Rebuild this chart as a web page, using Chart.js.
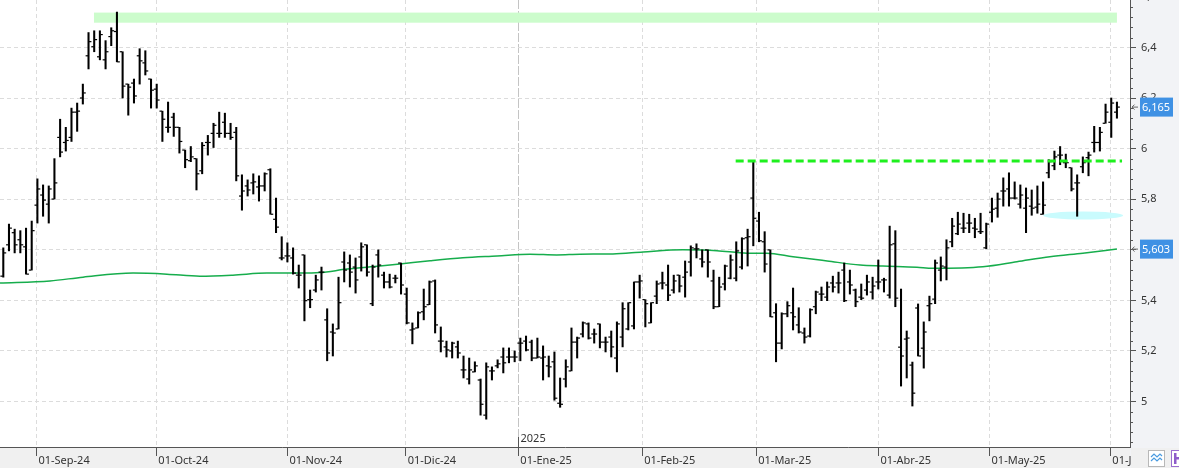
<!DOCTYPE html>
<html>
<head>
<meta charset="utf-8">
<script src="https://cdn.jsdelivr.net/npm/chart.js@4.4.1/dist/chart.umd.min.js"></script>
<style>
  html, body { margin: 0; padding: 0; background: #fff; }
  #wrap { width: 1179px; height: 468px; }
</style>
</head>
<body>
<div id="wrap"><canvas id="chart" width="1179" height="468"></canvas></div>
<script>
// Daily OHLC bars, 23-Aug-24 .. 03-Jun-25 (one entry per trading session)
const opens = [5.496,5.620,5.668,5.640,5.612,5.520,5.777,5.817,5.781,5.801,6.045,6.025,6.045,6.145,6.201,6.368,6.404,6.364,6.352,6.444,6.464,6.384,6.256,6.260,6.368,6.340,6.276,6.236,6.149,6.085,6.125,6.085,5.995,5.953,5.961,5.913,6.025,6.061,6.061,6.105,6.061,6.065,5.813,5.853,5.865,5.849,5.853,5.917,5.721,5.568,5.576,5.568,5.500,5.580,5.403,5.441,5.512,5.323,5.275,5.287,5.552,5.548,5.532,5.572,5.620,5.387,5.580,5.500,5.473,5.488,5.548,5.425,5.283,5.291,5.355,5.383,5.477,5.239,5.216,5.200,5.216,5.125,5.089,5.117,5.085,4.946,5.121,5.141,5.176,5.176,5.176,5.231,5.239,5.235,5.172,5.172,5.141,5.157,4.993,5.089,5.121,5.235,5.267,5.307,5.267,5.307,5.235,5.255,5.172,5.255,5.287,5.299,5.473,5.403,5.311,5.417,5.469,5.461,5.441,5.500,5.492,5.552,5.604,5.564,5.600,5.477,5.375,5.465,5.488,5.488,5.532,5.648,5.805,5.714,5.632,5.600,5.351,5.231,5.347,5.351,5.303,5.271,5.259,5.375,5.425,5.413,5.469,5.469,5.520,5.473,5.441,5.413,5.441,5.433,5.473,5.481,5.421,5.624,5.215,5.247,5.144,5.370,5.211,5.379,5.405,5.520,5.532,5.632,5.664,5.686,5.706,5.686,5.672,5.608,5.749,5.765,5.833,5.841,5.805,5.781,5.765,5.773,5.769,5.741,5.905,5.933,5.975,5.945,5.925,5.865,5.929,5.965,6.025,6.025,6.101,6.105,6.145];
const highs = [5.608,5.702,5.682,5.676,5.686,5.714,5.881,5.857,5.853,5.961,6.117,6.085,6.161,6.181,6.256,6.460,6.467,6.467,6.428,6.479,6.541,6.384,6.256,6.276,6.396,6.388,6.276,6.256,6.149,6.185,6.141,6.085,5.995,6.009,5.961,6.025,6.053,6.101,6.145,6.141,6.101,6.085,5.897,5.877,5.901,5.893,5.905,5.921,5.805,5.652,5.628,5.608,5.540,5.580,5.441,5.500,5.532,5.367,5.307,5.492,5.592,5.580,5.568,5.628,5.620,5.540,5.600,5.512,5.504,5.500,5.548,5.449,5.311,5.355,5.445,5.477,5.481,5.295,5.239,5.235,5.239,5.180,5.172,5.157,5.089,5.153,5.137,5.165,5.212,5.212,5.200,5.251,5.259,5.243,5.251,5.220,5.180,5.196,5.093,5.165,5.291,5.255,5.315,5.311,5.287,5.307,5.255,5.279,5.315,5.391,5.391,5.473,5.500,5.403,5.391,5.477,5.512,5.540,5.500,5.500,5.556,5.616,5.624,5.600,5.600,5.520,5.492,5.540,5.580,5.632,5.648,5.682,5.949,5.749,5.672,5.600,5.387,5.351,5.395,5.449,5.371,5.291,5.367,5.437,5.453,5.473,5.496,5.512,5.548,5.520,5.445,5.465,5.500,5.492,5.560,5.488,5.694,5.676,5.445,5.279,5.156,5.386,5.315,5.417,5.560,5.572,5.640,5.725,5.749,5.745,5.741,5.725,5.745,5.706,5.805,5.825,5.885,5.905,5.869,5.857,5.845,5.837,5.853,5.869,5.957,5.991,6.009,5.979,5.925,5.897,5.968,5.987,6.089,6.085,6.177,6.201,6.185];
const lows = [5.492,5.596,5.588,5.588,5.504,5.520,5.706,5.733,5.706,5.801,5.968,5.991,6.029,6.069,6.177,6.316,6.384,6.352,6.316,6.408,6.344,6.201,6.133,6.181,6.256,6.292,6.161,6.161,6.029,6.065,6.049,5.983,5.925,5.949,5.837,5.901,5.975,6.005,6.045,6.045,6.037,5.873,5.757,5.813,5.821,5.793,5.833,5.741,5.668,5.560,5.552,5.504,5.449,5.319,5.371,5.433,5.441,5.161,5.180,5.287,5.473,5.453,5.429,5.516,5.496,5.379,5.492,5.449,5.449,5.469,5.425,5.307,5.228,5.291,5.323,5.383,5.271,5.196,5.176,5.172,5.172,5.093,5.069,5.117,4.946,4.930,5.085,5.133,5.113,5.153,5.157,5.161,5.200,5.161,5.172,5.085,5.097,5.005,4.977,5.057,5.121,5.172,5.255,5.247,5.231,5.212,5.196,5.176,5.117,5.216,5.283,5.287,5.409,5.295,5.311,5.387,5.445,5.399,5.429,5.433,5.413,5.496,5.568,5.532,5.492,5.367,5.375,5.441,5.485,5.477,5.524,5.536,5.616,5.632,5.512,5.335,5.157,5.208,5.335,5.283,5.271,5.231,5.255,5.347,5.399,5.399,5.433,5.429,5.395,5.425,5.375,5.403,5.421,5.405,5.445,5.433,5.409,5.375,5.061,5.093,4.982,5.180,5.132,5.319,5.387,5.477,5.481,5.612,5.660,5.668,5.668,5.648,5.664,5.604,5.710,5.729,5.773,5.773,5.801,5.765,5.668,5.737,5.745,5.741,5.885,5.917,5.937,5.925,5.833,5.733,5.905,5.893,5.987,5.991,6.101,6.045,6.121];
const closes = [5.588,5.686,5.620,5.620,5.504,5.676,5.841,5.797,5.841,5.865,5.987,6.033,6.145,6.149,6.221,6.424,6.432,6.452,6.384,6.467,6.344,6.248,6.244,6.209,6.348,6.308,6.232,6.193,6.117,6.085,6.085,6.029,5.957,5.968,5.901,6.013,6.025,6.093,6.061,6.061,6.045,5.893,5.833,5.837,5.869,5.853,5.901,5.741,5.690,5.568,5.576,5.508,5.500,5.399,5.403,5.481,5.512,5.192,5.271,5.391,5.520,5.512,5.481,5.612,5.512,5.532,5.540,5.473,5.453,5.488,5.461,5.311,5.287,5.351,5.375,5.473,5.303,5.239,5.204,5.231,5.192,5.125,5.125,5.141,4.989,5.137,5.121,5.149,5.153,5.176,5.176,5.231,5.204,5.172,5.176,5.176,5.137,5.013,4.989,5.137,5.235,5.251,5.311,5.251,5.267,5.235,5.235,5.216,5.307,5.367,5.391,5.473,5.477,5.387,5.391,5.465,5.469,5.421,5.477,5.457,5.512,5.608,5.604,5.552,5.552,5.375,5.453,5.536,5.560,5.596,5.644,5.652,5.725,5.636,5.544,5.335,5.231,5.347,5.379,5.335,5.275,5.255,5.363,5.433,5.425,5.453,5.453,5.469,5.399,5.461,5.395,5.409,5.473,5.457,5.473,5.481,5.620,5.409,5.180,5.251,5.033,5.180,5.275,5.387,5.548,5.536,5.608,5.694,5.702,5.686,5.706,5.682,5.672,5.702,5.761,5.801,5.833,5.805,5.805,5.817,5.805,5.765,5.781,5.777,5.949,5.968,5.975,5.945,5.841,5.865,5.945,5.975,6.025,6.065,6.145,6.181,6.165];

// Moving average, read at a handful of bar positions
const maPos = [-0.58,8.22,14.03,22.83,28.81,34.6,40.4,46.4,52.2,55.7,60.5,66.3,69.8,75.1,80.9,86.9,92.7,97.4,101.5,107.3,112.6,119.6,125.6,130.9,134.4,139.0,145.0,150.8,154.8,160.8,163.6,172.4,178.4,184.2,190.0,196];
const maValues = [5.469,5.477,5.492,5.508,5.504,5.496,5.500,5.508,5.508,5.510,5.524,5.536,5.544,5.557,5.569,5.576,5.583,5.580,5.583,5.584,5.592,5.600,5.597,5.587,5.587,5.573,5.556,5.540,5.536,5.531,5.527,5.533,5.553,5.573,5.587,5.603];

// Axis ticks
const monthLabels = ['01-Sep-24','01-Oct-24','01-Nov-24','01-Dic-24','01-Ene-25','01-Feb-25','01-Mar-25','01-Abr-25','01-May-25','01-Jun-25'];
const monthPos = [5.83,26.94,50.0,70.82,90.65,112.46,132.52,154.02,173.58,194.84];
const yTicks = [5, 5.2, 5.4, 5.6, 5.8, 6, 6.2, 6.4];
const yTopTick = 6.6; // sits just above the plot, only partly visible
const yearLabel = '2025';

// Drawn studies
const bandRange = [6.499, 6.539];
const bandSpan = [15.96, 196.0];
const breakoutLevel = 5.952;
const breakoutSpan = [128.9, 196.9];
const supportLevel = 5.736;
const supportSpan = [183.0, 197.1];
const lastClose = 6.165;
const lastMA = 5.603;

const Y_MIN = 4.8199, Y_MAX = 6.5888;
const X_MIN = -0.58, X_MAX = 198.3;

Chart.defaults.font.family = '"Noto Sans", "DejaVu Sans", sans-serif';
Chart.defaults.font.size = 11;
Chart.defaults.color = '#333';

function fmt(v) {
  return String(v).replace('.', ',');
}

// Keep the plot flush with the canvas edges
function noPadding(s) {
  s.paddingTop = 0;
  s.paddingBottom = 0;
  s.paddingLeft = 0;
  s.paddingRight = 0;
}

// Panel backgrounds
const backdrop = {
  id: 'backdrop',
  beforeDraw(chart) {
    const { ctx, chartArea: a, width, height } = chart;
    ctx.save();
    ctx.fillStyle = '#fff';
    ctx.fillRect(0, 0, width, height);
    ctx.fillStyle = '#f2f3f6';
    ctx.fillRect(a.right, 0, width - a.right, height);
    ctx.fillStyle = '#f0f0f0';
    ctx.fillRect(0, a.bottom, a.right, height - a.bottom);
    ctx.restore();
  }
};

// Resistance band, support blob (under bars) and breakout line (over bars)
const studies = {
  id: 'studies',
  beforeDatasetsDraw(chart) {
    const { ctx } = chart;
    const { x, y } = chart.scales;
    ctx.save();
    const bx0 = x.getPixelForValue(bandSpan[0]), bx1 = x.getPixelForValue(bandSpan[1]);
    const by0 = y.getPixelForValue(bandRange[1]), by1 = y.getPixelForValue(bandRange[0]);
    ctx.fillStyle = '#ccfccc';
    ctx.fillRect(bx0, by0, bx1 - bx0, by1 - by0);

    const sx0 = x.getPixelForValue(supportSpan[0]), sx1 = x.getPixelForValue(supportSpan[1]);
    const sy = y.getPixelForValue(supportLevel);
    ctx.fillStyle = '#c9fbfd';
    ctx.beginPath();
    ctx.ellipse((sx0 + sx1) / 2, sy, (sx1 - sx0) / 2, 4, 0, 0, Math.PI * 2);
    ctx.fill();
    ctx.restore();
  },
  afterDatasetsDraw(chart) {
    const { ctx } = chart;
    const { x, y } = chart.scales;
    const py = y.getPixelForValue(breakoutLevel);
    ctx.save();
    ctx.strokeStyle = '#1ef01e';
    ctx.lineWidth = 3;
    ctx.setLineDash([8, 4]);
    ctx.beginPath();
    ctx.moveTo(x.getPixelForValue(breakoutSpan[0]), py);
    ctx.lineTo(x.getPixelForValue(breakoutSpan[1]), py);
    ctx.stroke();
    ctx.restore();
  }
};

// Minor axis ticks, year marker, price tags and toolbar corner
const decorations = {
  id: 'decorations',
  afterDraw(chart) {
    const { ctx, chartArea: a } = chart;
    const { x, y } = chart.scales;
    ctx.save();

    // minor ticks every 0.04
    ctx.strokeStyle = '#555';
    ctx.lineWidth = 1;
    ctx.beginPath();
    for (let k = 121; k <= 165; k++) {
      if (k % 5 === 0) continue;
      const py = Math.round(y.getPixelForValue(k * 0.04)) + 0.5;
      ctx.moveTo(a.right, py);
      ctx.lineTo(a.right + 3, py);
    }
    ctx.stroke();

    // top label cut by the canvas edge
    ctx.fillStyle = '#333';
    ctx.font = '11px "Noto Sans", sans-serif';
    ctx.textBaseline = 'middle';
    ctx.textAlign = 'left';
    ctx.fillText(fmt(yTopTick), a.right + 11, y.getPixelForValue(yTopTick));

    // year marker above the axis
    const xj = Math.round(x.getPixelForValue(monthPos[4])) + 0.5;
    ctx.beginPath();
    ctx.moveTo(xj, a.bottom - 10);
    ctx.lineTo(xj, a.bottom);
    ctx.stroke();
    ctx.fillText(yearLabel, xj + 2, a.bottom - 8.5);

    // last value tags
    [lastClose, lastMA].forEach(v => {
      const py = y.getPixelForValue(v);
      ctx.fillStyle = '#3f91e4';
      ctx.fillRect(a.right + 10, py - 9.5, 33, 19);
      ctx.fillStyle = '#fff';
      ctx.fillText(fmt(v), a.right + 12, py + 0.5);
      ctx.strokeStyle = '#666';
      ctx.beginPath();
      ctx.moveTo(a.right + 2, py);
      ctx.lineTo(a.right + 8, py);
      ctx.moveTo(a.right + 4.5, py - 2.5);
      ctx.lineTo(a.right + 2, py);
      ctx.lineTo(a.right + 4.5, py + 2.5);
      ctx.stroke();
    });

    // toolbar corner
    ctx.fillStyle = '#f0f0f0';
    ctx.fillRect(a.right + 1, a.bottom + 1, 60, 30);
    ctx.fillStyle = '#fff';
    ctx.fillRect(1148.5, 450.5, 16, 16);
    ctx.strokeStyle = '#b8b8b8';
    ctx.strokeRect(1148.5, 450.5, 16, 16);
    ctx.strokeStyle = '#4a9be0';
    ctx.lineWidth = 1.2;
    ctx.beginPath();
    ctx.moveTo(1151, 457); ctx.lineTo(1154, 454); ctx.lineTo(1157, 457); ctx.lineTo(1160, 454); ctx.lineTo(1162, 456);
    ctx.moveTo(1151, 461); ctx.lineTo(1154, 458); ctx.lineTo(1157, 461); ctx.lineTo(1160, 458); ctx.lineTo(1162, 460);
    ctx.stroke();
    ctx.fillStyle = '#fff';
    ctx.fillRect(1171.5, 450.5, 12, 16);
    ctx.strokeStyle = '#9b6fd0';
    ctx.lineWidth = 1;
    ctx.strokeRect(1171.5, 450.5, 12, 16);
    ctx.fillStyle = '#8e5cc9';
    ctx.fillRect(1174, 453, 2.5, 11);
    ctx.fillRect(1174, 457, 5, 2.5);
    ctx.restore();
  }
};

const idx = highs.map((_, i) => i);

new Chart(document.getElementById('chart'), {
  type: 'bar',
  data: {
    datasets: [
      {
        type: 'line',
        label: 'Open',
        data: idx.map(i => ({ x: i - 0.3, y: opens[i] })),
        showLine: false,
        pointStyle: 'line',
        pointRadius: 1.2,
        pointBorderColor: '#000',
        pointBorderWidth: 1.2
      },
      {
        type: 'line',
        label: 'Close',
        data: idx.map(i => ({ x: i + 0.3, y: closes[i] })),
        showLine: false,
        pointStyle: 'line',
        pointRadius: 1.2,
        pointBorderColor: '#000',
        pointBorderWidth: 1.2
      },
      {
        type: 'bar',
        label: 'Range',
        data: idx.map(i => ({ x: i, y: [lows[i], highs[i]] })),
        backgroundColor: '#000',
        barThickness: 1.4
      },
      {
        type: 'line',
        label: 'Media',
        data: maPos.map((p, i) => ({ x: p, y: maValues[i] })),
        borderColor: '#16ad4c',
        borderWidth: 1.5,
        pointRadius: 0,
        cubicInterpolationMode: 'monotone'
      }
    ]
  },
  options: {
    responsive: false,
    animation: false,
    events: [],
    layout: { padding: 0, autoPadding: false },
    plugins: { legend: { display: false }, tooltip: { enabled: false } },
    scales: {
      x: {
        type: 'linear',
        min: X_MIN,
        max: X_MAX,
        offset: false,
        afterBuildTicks: s => { s.ticks = monthPos.map(v => ({ value: v })); },
        afterFit: s => { s.height = 21; noPadding(s); },
        ticks: {
          callback: (v, i) => monthLabels[i],
          align: 'start',
          labelOffset: 2,
          padding: -2,
          autoSkip: false,
          maxRotation: 0,
          color: '#333'
        },
        grid: {
          offset: false,
          color: c => (c.index === 4 ? '#c4c4c4' : '#dcdcdc'),
          tickColor: '#555',
          tickLength: 9
        },
        border: {
          color: '#555',
          width: 1,
          dash: c => (c.index === 4 ? [9, 2] : [4, 3])
        }
      },
      y: {
        position: 'right',
        min: Y_MIN,
        max: Y_MAX,
        afterBuildTicks: s => { s.ticks = yTicks.map(v => ({ value: v })); },
        afterFit: s => { s.width = 49; noPadding(s); },
        ticks: {
          callback: v => fmt(v),
          padding: 5,
          color: '#333'
        },
        grid: {
          color: '#dcdcdc',
          tickColor: '#555',
          tickLength: 6
        },
        border: { color: '#555', width: 1, dash: [4, 3] }
      }
    }
  },
  plugins: [backdrop, studies, decorations]
});
</script>
</body>
</html>
